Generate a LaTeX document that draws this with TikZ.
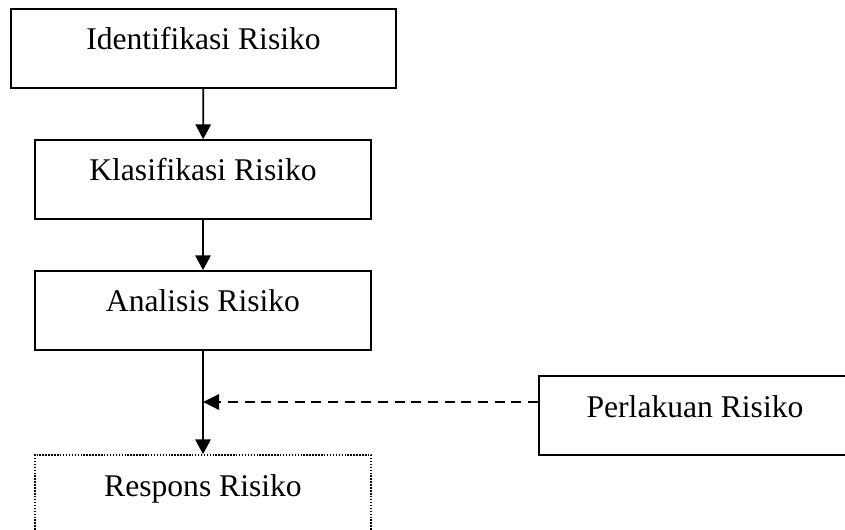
\documentclass[tikz,border=0pt]{standalone}
\usepackage{fontspec}
\setmainfont{Liberation Serif}[Ligatures=NoCommon]
\usepackage{tikz}
\usetikzlibrary{arrows.meta}
\tikzstyle{stageBox} = [draw, line width=1.3pt, rectangle, inner xsep=0pt, inner ysep=0pt,
   text height=30.75pt, text depth=28.5pt, minimum width=252pt,
   font=\fontsize{23.7}{28}\selectfont]
\tikzstyle{flowArrow} = [line width=1.3pt, -{Triangle[length=11pt,width=11.5pt]}]
\tikzstyle{feedArrow} = [line width=1.3pt, dash pattern=on 7.5pt off 5pt,
   -{Triangle[length=12pt,width=11.5pt]}]

\begin{document}
\begin{tikzpicture}[x=0.75pt,y=-0.75pt]
    \useasboundingbox (0,0) rectangle (845,530);
    \node[stageBox, minimum width=288.75pt] (ident) at (203.5,48.5) {Identifikasi Risiko};
    \node[stageBox] (klas) at (203,179.5) {Klasifikasi Risiko};
    \node[stageBox] (anal) at (203,310.5) {Analisis Risiko};
    \node[stageBox, dash pattern=on 1.1pt off 1.1pt] (resp) at (203,494.5) {Respons Risiko};
    \node[stageBox, minimum width=234pt] (perl) at (695,415.5) {Perlakuan Risiko};
    \coordinate (join) at (203,402);
    \draw [flowArrow] (ident) -- (klas);
    \draw [flowArrow] (klas) -- (anal);
    \draw [flowArrow] (anal) -- (resp);
    \draw [feedArrow] (join -| perl.west) -- (join);
\end{tikzpicture}
\end{document}
